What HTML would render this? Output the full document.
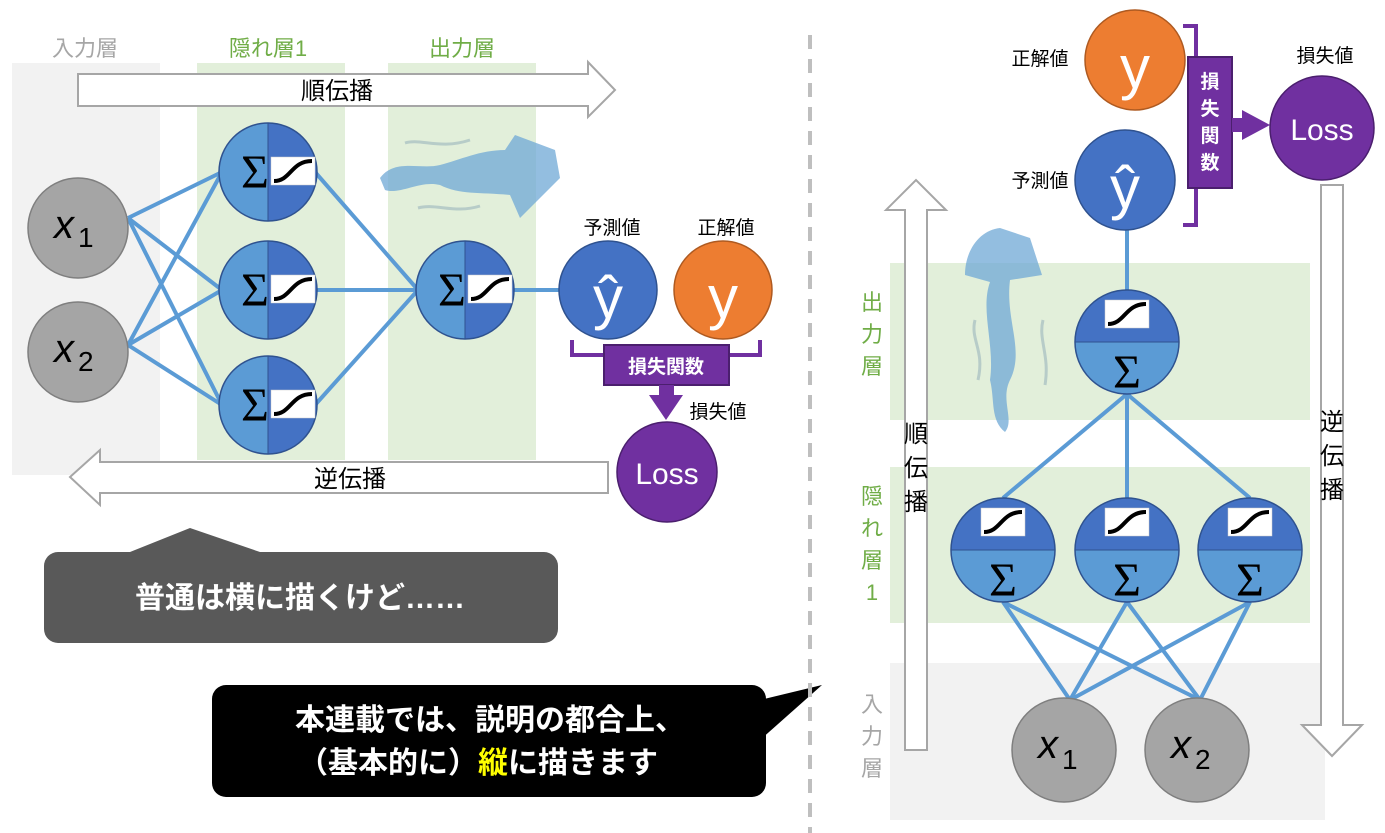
<!DOCTYPE html>
<html><head><meta charset="utf-8"><style>
html,body{margin:0;padding:0;background:#fff;}
svg{display:block;}
text{font-family:"Liberation Sans","Noto Sans CJK JP",sans-serif;}
.s{font-family:"Liberation Serif","DejaVu Serif",serif;font-size:48px;}
</style></head><body>
<svg width="1385" height="833" viewBox="0 0 1385 833" xmlns="http://www.w3.org/2000/svg">
<defs>
<g id="sig"><rect x="0" y="0" width="44" height="28" fill="#fff" stroke="#ccc" stroke-width="0.5"/><path d="M3,24 C20,24 20,4 41,4" fill="none" stroke="#000" stroke-width="4"/></g>
</defs>
<rect x="12" y="63" width="148" height="412" fill="#f2f2f2"/>
<rect x="197" y="63" width="148" height="397" fill="#e2efda"/>
<rect x="388" y="63" width="148" height="397" fill="#e2efda"/>
<text x="85" y="56" font-size="22" fill="#a6a6a6" text-anchor="middle">入力層</text>
<text x="268" y="56" font-size="22" fill="#70ad47" text-anchor="middle">隠れ層1</text>
<text x="462" y="56" font-size="22" fill="#70ad47" text-anchor="middle">出力層</text>
<path d="M78,74 L588,74 L588,62 L615,90 L588,117 L588,106 L78,106 Z" fill="#fff" stroke="#a6a6a6" stroke-width="2"/>
<text x="337" y="99" font-size="24" text-anchor="middle">順伝播</text>
<g fill="#6fa8d6" opacity="0.75">
<path d="M380,178 C395,158 420,170 440,165 C460,160 480,150 505,150 L515,135 L555,150 L560,178 L520,218 L510,195 C480,192 460,195 440,185 C420,180 400,195 385,190 Z"/>
</g>
<path d="M405,143 C420,138 440,150 470,140" stroke="#b7ccc8" stroke-width="3" fill="none"/>
<path d="M418,208 C435,203 455,214 480,206" stroke="#b7ccc8" stroke-width="3" fill="none"/>
<g stroke="#5b9bd5" stroke-width="4" fill="none">
<line x1="128" y1="218" x2="222" y2="172"/><line x1="128" y1="218" x2="222" y2="290"/><line x1="128" y1="218" x2="222" y2="405"/>
<line x1="128" y1="345" x2="222" y2="172"/><line x1="128" y1="345" x2="222" y2="290"/><line x1="128" y1="345" x2="222" y2="405"/>
<line x1="315" y1="172" x2="418" y2="290"/><line x1="315" y1="290" x2="418" y2="290"/><line x1="315" y1="405" x2="418" y2="290"/>
<line x1="512" y1="290" x2="560" y2="290"/>
</g>
<circle cx="78" cy="228" r="50" fill="#a5a5a5" stroke="#7f7f7f" stroke-width="1.5"/>
<circle cx="78" cy="352" r="50" fill="#a5a5a5" stroke="#7f7f7f" stroke-width="1.5"/>
<text x="54" y="238" font-size="40" font-style="italic" font-family="Liberation Serif,serif">x</text><text x="78" y="247" font-size="28">1</text>
<text x="54" y="362" font-size="40" font-style="italic" font-family="Liberation Serif,serif">x</text><text x="78" y="371" font-size="28">2</text>
<g>
<path d="M268,123 A49,49 0 0 0 268,221 Z" fill="#5b9bd5"/><path d="M268,123 A49,49 0 0 1 268,221 Z" fill="#4472c4"/><circle cx="268" cy="172" r="49" fill="none" stroke="#2f528f" stroke-width="1.5"/><line x1="268" y1="123" x2="268" y2="221" stroke="#2f528f"/>
<text class="s" x="241" y="188">Σ</text><use href="#sig" x="271" y="157"/>
<path d="M268,241 A49,49 0 0 0 268,339 Z" fill="#5b9bd5"/><path d="M268,241 A49,49 0 0 1 268,339 Z" fill="#4472c4"/><circle cx="268" cy="290" r="49" fill="none" stroke="#2f528f" stroke-width="1.5"/><line x1="268" y1="241" x2="268" y2="339" stroke="#2f528f"/>
<text class="s" x="241" y="306">Σ</text><use href="#sig" x="271" y="275"/>
<path d="M268,356 A49,49 0 0 0 268,454 Z" fill="#5b9bd5"/><path d="M268,356 A49,49 0 0 1 268,454 Z" fill="#4472c4"/><circle cx="268" cy="405" r="49" fill="none" stroke="#2f528f" stroke-width="1.5"/><line x1="268" y1="356" x2="268" y2="454" stroke="#2f528f"/>
<text class="s" x="241" y="421">Σ</text><use href="#sig" x="271" y="390"/>
<path d="M465,241 A49,49 0 0 0 465,339 Z" fill="#5b9bd5"/><path d="M465,241 A49,49 0 0 1 465,339 Z" fill="#4472c4"/><circle cx="465" cy="290" r="49" fill="none" stroke="#2f528f" stroke-width="1.5"/><line x1="465" y1="241" x2="465" y2="339" stroke="#2f528f"/>
<text class="s" x="438" y="306">Σ</text><use href="#sig" x="468" y="275"/>
</g>
<circle cx="608" cy="290" r="49" fill="#4472c4" stroke="#2f528f" stroke-width="1.5"/>
<text x="608" y="318" font-size="60" fill="#fff" text-anchor="middle" font-family="DejaVu Sans,sans-serif">ŷ</text>
<circle cx="723" cy="290" r="49" fill="#ed7d31" stroke="#ae5a21" stroke-width="1.5"/>
<text x="723" y="318" font-size="60" fill="#fff" text-anchor="middle" font-family="DejaVu Sans,sans-serif">y</text>
<text x="612" y="234" font-size="19" text-anchor="middle">予測値</text>
<text x="726" y="234" font-size="19" text-anchor="middle">正解値</text>
<path d="M572,340 L572,355 L760,355 L760,340" fill="none" stroke="#7030a0" stroke-width="4"/>
<rect x="604" y="345" width="125" height="40" fill="#7030a0" stroke="#4b1f6e" stroke-width="2"/>
<text x="666" y="373" font-size="19" font-weight="bold" fill="#fff" text-anchor="middle">損失関数</text>
<path d="M659,385 L674,385 L674,395 L683,395 L666,420 L649,395 L659,395 Z" fill="#7030a0"/>
<text x="718" y="418" font-size="19" text-anchor="middle">損失値</text>
<circle cx="667" cy="472" r="50" fill="#7030a0" stroke="#4b1f6e" stroke-width="1.5"/>
<text x="667" y="484" font-size="30" fill="#fff" text-anchor="middle">Loss</text>
<path d="M608,462 L100,462 L100,450 L70,477 L100,505 L100,493 L608,493 Z" fill="#fff" stroke="#a6a6a6" stroke-width="2"/>
<text x="350" y="487" font-size="24" text-anchor="middle">逆伝播</text>
<path d="M130,552 L190,528 L260,552 Z" fill="#595959"/>
<rect x="44" y="552" width="514" height="91" rx="14" fill="#595959"/>
<text x="300" y="608" font-size="30" font-weight="bold" fill="#fff" text-anchor="middle">普通は横に描くけど……</text>
<path d="M760,700 L822,685 L760,740 Z" fill="#000"/>
<rect x="212" y="685" width="554" height="112" rx="14" fill="#000"/>
<text x="490" y="730" font-size="30" font-weight="bold" fill="#fff" text-anchor="middle">本連載では、説明の都合上、</text>
<text x="478" y="773" font-size="30" font-weight="bold" fill="#fff" text-anchor="middle">（基本的に）<tspan fill="#ffff00">縦</tspan>に描きます</text>
<line x1="810" y1="35" x2="810" y2="833" stroke="#bfbfbf" stroke-width="4" stroke-dasharray="14,10"/>
<rect x="890" y="263" width="420" height="157" fill="#e2efda"/>
<rect x="890" y="467" width="420" height="156" fill="#e2efda"/>
<rect x="890" y="663" width="435" height="157" fill="#f2f2f2"/>
<g font-size="22" fill="#70ad47" text-anchor="middle">
<text x="872" y="310">出</text><text x="872" y="342">力</text><text x="872" y="374">層</text>
<text x="872" y="504">隠</text><text x="872" y="536">れ</text><text x="872" y="568">層</text><text x="872" y="600">1</text>
</g>
<g font-size="22" fill="#a6a6a6" text-anchor="middle">
<text x="872" y="712">入</text><text x="872" y="744">力</text><text x="872" y="776">層</text>
</g>
<path d="M905,750 L905,210 L886,210 L916,180 L946,210 L927,210 L927,750 Z" fill="#fff" stroke="#a6a6a6" stroke-width="2"/>
<g font-size="24" text-anchor="middle"><text x="916" y="442">順</text><text x="916" y="476">伝</text><text x="916" y="510">播</text></g>
<path d="M1321,185 L1343,185 L1343,725 L1362,725 L1332,756 L1302,725 L1321,725 Z" fill="#fff" stroke="#a6a6a6" stroke-width="2"/>
<g font-size="24" text-anchor="middle"><text x="1332" y="430">逆</text><text x="1332" y="464">伝</text><text x="1332" y="498">播</text></g>
<path d="M965,275 C965,250 980,230 1000,228 L1030,238 L1042,275 L1010,280 C1005,320 1025,350 1010,380 C1000,400 1015,420 1005,432 C990,420 995,400 990,380 C995,345 980,310 990,282 Z" fill="#6fa8d6" opacity="0.75"/>
<path d="M975,320 C970,340 985,350 978,380" stroke="#b7ccc8" stroke-width="3" fill="none"/>
<path d="M1043,320 C1038,340 1050,355 1045,385" stroke="#b7ccc8" stroke-width="3" fill="none"/>
<g stroke="#5b9bd5" stroke-width="4" fill="none">
<line x1="1127" y1="230" x2="1127" y2="290"/>
<line x1="1127" y1="394" x2="1003" y2="498"/><line x1="1127" y1="394" x2="1127" y2="498"/><line x1="1127" y1="394" x2="1250" y2="498"/>
<line x1="1003" y1="602" x2="1070" y2="700"/><line x1="1003" y1="602" x2="1200" y2="700"/>
<line x1="1127" y1="602" x2="1070" y2="700"/><line x1="1127" y1="602" x2="1200" y2="700"/>
<line x1="1250" y1="602" x2="1070" y2="700"/><line x1="1250" y1="602" x2="1200" y2="700"/>
</g>
<path d="M1075,342 A52,52 0 0 1 1179,342 Z" fill="#4472c4"/><path d="M1075,342 A52,52 0 0 0 1179,342 Z" fill="#5b9bd5"/><circle cx="1127" cy="342" r="52" fill="none" stroke="#2f528f" stroke-width="1.5"/><line x1="1075" y1="342" x2="1179" y2="342" stroke="#2f528f"/>
<use href="#sig" x="1105" y="300"/><text class="s" x="1127" y="388" text-anchor="middle">Σ</text>
<path d="M951,550 A52,52 0 0 1 1055,550 Z" fill="#4472c4"/><path d="M951,550 A52,52 0 0 0 1055,550 Z" fill="#5b9bd5"/><circle cx="1003" cy="550" r="52" fill="none" stroke="#2f528f" stroke-width="1.5"/><line x1="951" y1="550" x2="1055" y2="550" stroke="#2f528f"/>
<use href="#sig" x="981" y="508"/><text class="s" x="1003" y="596" text-anchor="middle">Σ</text>
<path d="M1075,550 A52,52 0 0 1 1179,550 Z" fill="#4472c4"/><path d="M1075,550 A52,52 0 0 0 1179,550 Z" fill="#5b9bd5"/><circle cx="1127" cy="550" r="52" fill="none" stroke="#2f528f" stroke-width="1.5"/><line x1="1075" y1="550" x2="1179" y2="550" stroke="#2f528f"/>
<use href="#sig" x="1105" y="508"/><text class="s" x="1127" y="596" text-anchor="middle">Σ</text>
<path d="M1198,550 A52,52 0 0 1 1302,550 Z" fill="#4472c4"/><path d="M1198,550 A52,52 0 0 0 1302,550 Z" fill="#5b9bd5"/><circle cx="1250" cy="550" r="52" fill="none" stroke="#2f528f" stroke-width="1.5"/><line x1="1198" y1="550" x2="1302" y2="550" stroke="#2f528f"/>
<use href="#sig" x="1228" y="508"/><text class="s" x="1250" y="596" text-anchor="middle">Σ</text>
<circle cx="1064" cy="750" r="52" fill="#a5a5a5" stroke="#7f7f7f" stroke-width="1.5"/>
<circle cx="1197" cy="750" r="52" fill="#a5a5a5" stroke="#7f7f7f" stroke-width="1.5"/>
<text x="1038" y="758" font-size="40" font-style="italic" font-family="Liberation Serif,serif">x</text><text x="1062" y="769" font-size="28">1</text>
<text x="1171" y="758" font-size="40" font-style="italic" font-family="Liberation Serif,serif">x</text><text x="1195" y="769" font-size="28">2</text>
<circle cx="1135" cy="60" r="50" fill="#ed7d31" stroke="#ae5a21" stroke-width="1.5"/>
<text x="1135" y="88" font-size="60" fill="#fff" text-anchor="middle" font-family="DejaVu Sans,sans-serif">y</text>
<circle cx="1125" cy="180" r="50" fill="#4472c4" stroke="#2f528f" stroke-width="1.5"/>
<text x="1125" y="208" font-size="60" fill="#fff" text-anchor="middle" font-family="DejaVu Sans,sans-serif">ŷ</text>
<text x="1040" y="65" font-size="19" text-anchor="middle">正解値</text>
<text x="1040" y="187" font-size="19" text-anchor="middle">予測値</text>
<path d="M1183,26 L1196,26 L1196,225 L1183,225" fill="none" stroke="#7030a0" stroke-width="4"/>
<rect x="1188" y="57" width="44" height="131" fill="#7030a0" stroke="#4b1f6e" stroke-width="2"/>
<g font-size="19" font-weight="bold" fill="#fff" text-anchor="middle"><text x="1210" y="88">損</text><text x="1210" y="115">失</text><text x="1210" y="142">関</text><text x="1210" y="169">数</text></g>
<path d="M1232,118 L1242,118 L1242,110 L1270,125 L1242,140 L1242,132 L1232,132 Z" fill="#7030a0"/>
<text x="1325" y="62" font-size="19" text-anchor="middle">損失値</text>
<circle cx="1322" cy="128" r="52" fill="#7030a0" stroke="#4b1f6e" stroke-width="1.5"/>
<text x="1322" y="140" font-size="30" fill="#fff" text-anchor="middle">Loss</text>
</svg>
</body></html>
